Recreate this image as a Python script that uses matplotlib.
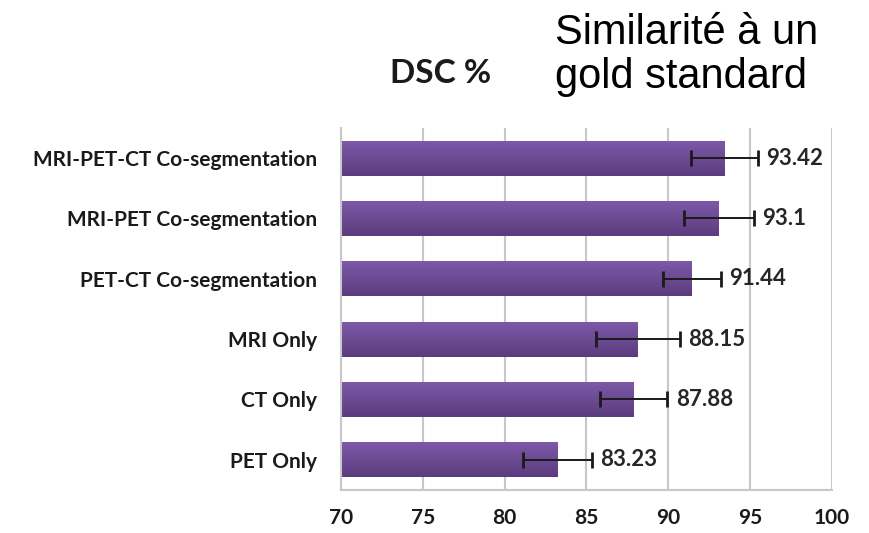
import numpy as np
import matplotlib
matplotlib.use('Agg')
import matplotlib.pyplot as plt
from matplotlib.colors import LinearSegmentedColormap

categories = ['MRI-PET-CT Co-segmentation', 'MRI-PET Co-segmentation',
              'PET-CT Co-segmentation', 'MRI Only', 'CT Only', 'PET Only']
dsc = [93.42, 93.1, 91.44, 88.15, 87.88, 83.23]
err = [2.05, 2.13, 1.77, 2.56, 2.07, 2.1]
xticks = [70, 75, 80, 85, 90, 95, 100]

fig = plt.figure(figsize=(8.7, 5.33), dpi=100)
ax = fig.add_axes([0.392, 0.081, 0.564, 0.679])

ypos = np.arange(len(categories))[::-1]
bar_h = 0.58

# Bars with a light-to-dark purple gradient
bars = ax.barh(ypos, np.array(dsc) - 70, left=70, height=bar_h,
               color='#6C4A93', edgecolor='none', zorder=2)
cmap = LinearSegmentedColormap.from_list('purp', ['#5B3C7E', '#7D58A8'])
grad = np.linspace(0, 1, 64).reshape(-1, 1)
for b in bars:
    x0, y0 = b.get_x(), b.get_y()
    im = ax.imshow(grad, extent=[x0, x0 + b.get_width(), y0, y0 + b.get_height()],
                   cmap=cmap, aspect='auto', origin='lower', zorder=2.5)
    im.set_clip_path(b)

ax.errorbar(dsc, ypos, xerr=err, fmt='none', ecolor='#1a1a1a',
            elinewidth=1.4, capsize=6, capthick=2, zorder=3)

for v, e, y in zip(dsc, err, ypos):
    ax.annotate(f'{v:g}', xy=(v + e, y), xytext=(6, 0), textcoords='offset points',
                ha='left', va='center', fontsize=16, fontweight='bold',
                family='Lato', color='#262626')

ax.set_xlim(70, 100)
ax.set_ylim(-0.5, 5.5)
ax.set_xticks(xticks)
ax.xaxis.grid(True, color='#c8c8c8', linewidth=1.5, zorder=0)
ax.set_axisbelow(True)
ax.set_yticks(ypos)
ax.set_yticklabels(categories)
ax.tick_params(axis='y', length=0, labelsize=15, pad=17)
ax.tick_params(axis='x', length=0, labelsize=15, pad=13)
for lbl in ax.get_xticklabels() + ax.get_yticklabels():
    lbl.set_family('Lato')
    lbl.set_fontweight('bold')
    lbl.set_color('#1a1a1a')

for s in ['top', 'right']:
    ax.spines[s].set_visible(False)
for s in ['left', 'bottom']:
    ax.spines[s].set_color('#c8c8c8')
    ax.spines[s].set_linewidth(1.5)

fig.text(0.506, 0.862, 'DSC %', ha='center', va='center', fontsize=24,
         fontweight='bold', family='Lato', color='#1a1a1a')
fig.text(0.638, 0.818, 'Similarité à un\ngold standard', ha='left', va='bottom',
         fontsize=30, family='Liberation Sans', linespacing=1.12, color='black')

fig.savefig('out.png', dpi=100)
